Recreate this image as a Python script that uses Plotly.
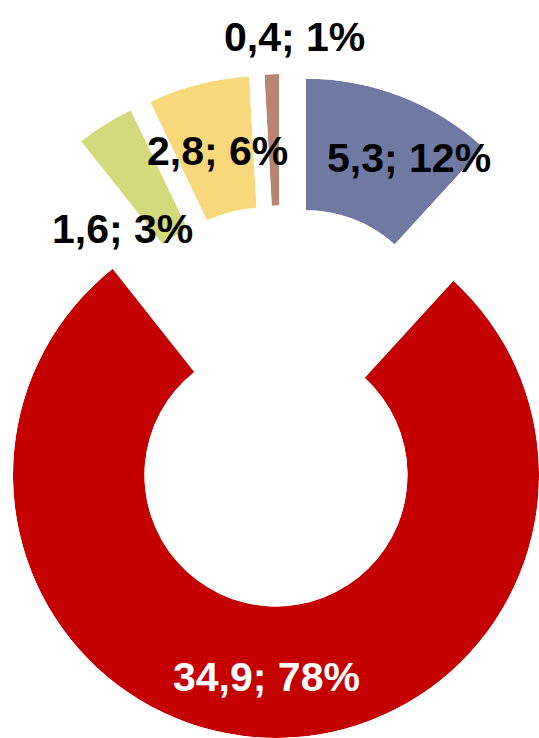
import math
import plotly.graph_objects as go

# data
labels = ["5,3", "34,9", "1,6", "2,8", "0,4"]
values = [5.3, 34.9, 1.6, 2.8, 0.4]
percents = [12, 78, 3, 6, 1]
colors = ["#6E7AA2", "#C40000", "#D3DA7B", "#F9D87C", "#B98573"]

W, H = 539, 738
CX, CY = 281, 406      # common centre of the exploded donut (px)
PULL = 69              # explode distance (px)
R = 263                # outer radius (px)
HOLE = 0.5

# label anchor points (px) and colours
label_pos = [(409, 158), (266, 677), (122, 229), (217, 151), (294, 37)]
label_col = ["black", "white", "black", "black", "black"]


def sector_bbox(a0, a1):
    # bbox of a sector (counter-clockwise from east, degrees) incl. origin
    pts = [(0.0, 0.0)]
    angs = [a0, a1] + [k * 90 for k in range(-8, 9) if a0 < k * 90 < a1]
    for a in angs:
        pts.append((math.cos(math.radians(a)), math.sin(math.radians(a))))
    xs = [p[0] for p in pts]
    ys = [p[1] for p in pts]
    return min(xs), min(ys), max(xs), max(ys)


fig = go.Figure()
total = sum(values)
start = 0.0
for i, v in enumerate(values):
    span = 360.0 * v / total
    mid = start + span / 2
    cx = CX + PULL * math.sin(math.radians(mid))
    cy = CY - PULL * math.cos(math.radians(mid))
    a0, a1 = 90 - start - span, 90 - start
    x0, y0, x1, y1 = sector_bbox(a0, a1)
    # keep the subplot inside the paper
    right = cx + R * x1
    if right > W:
        cx -= right - W
    left = cx + R * x0
    if left < 0:
        cx -= left
    bottom = cy - R * y0
    if bottom > H:
        cy -= bottom - H
    name = "polar" if i == 0 else f"polar{i + 1}"
    fig.add_trace(go.Barpolar(
        r=[1], theta=[mid], width=[span], base=0,
        marker=dict(color=colors[i], line=dict(width=0)),
        subplot=name, showlegend=False, hoverinfo="skip",
    ))
    fig.layout[name] = dict(
        domain=dict(
            x=[(cx + R * x0) / W, (cx + R * x1) / W],
            y=[(H - cy + R * y0) / H, (H - cy + R * y1) / H],
        ),
        sector=[a0, a1],
        hole=HOLE,
        bgcolor="rgba(0,0,0,0)",
        radialaxis=dict(visible=False, range=[0, 1], showgrid=False),
        angularaxis=dict(visible=False, rotation=90, direction="clockwise", showgrid=False),
    )
    start += span

for i in range(len(values)):
    x, y = label_pos[i]
    fig.add_annotation(
        x=x / W, y=1 - y / H, xref="paper", yref="paper",
        xanchor="center", yanchor="middle",
        text=f"{labels[i]}; {percents[i]}%", showarrow=False,
        font=dict(family="Liberation Sans, Arial", size=41, color=label_col[i], weight="bold"),
    )

fig.update_layout(
    width=W, height=H,
    margin=dict(l=0, r=0, t=0, b=0),
    paper_bgcolor="white",
    plot_bgcolor="white",
)

fig.write_html("out.html", config={"displayModeBar": False},
               post_script="document.body.style.margin='0';")
